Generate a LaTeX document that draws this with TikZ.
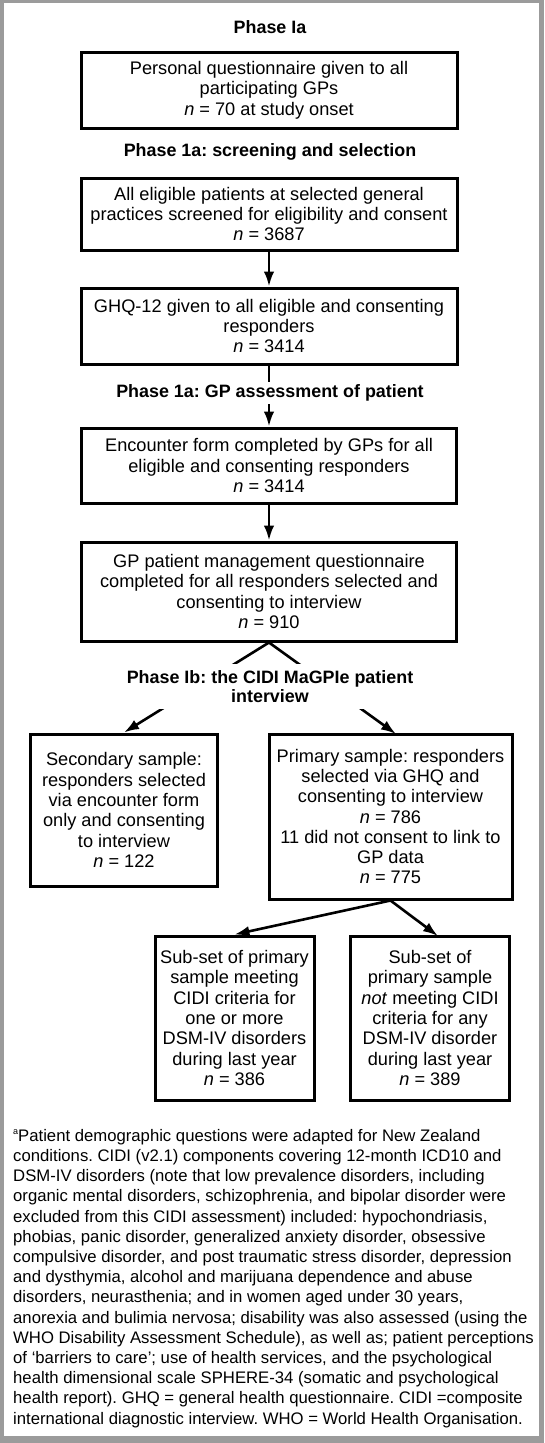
\documentclass[tikz,border=0pt]{standalone}
\usepackage{fontspec}
\setmainfont{Liberation Sans}
\usetikzlibrary{arrows.meta}
\definecolor{framegray}{RGB}{155,155,155}
\begin{document}
\frenchspacing
\begin{tikzpicture}[x=1pt,y=-1pt,
  box/.style={draw=black, line width=3pt, align=center, inner sep=0pt, font=\fontsize{18.2}{20.3}\selectfont},
  ttl/.style={align=center, font=\bfseries\fontsize{17.9}{18.5}\selectfont, fill=white, inner xsep=2pt},
  arr/.style={line width=2.6pt, -{Latex[length=15pt,width=10.5pt]}},
  note/.style={align=left, anchor=north west, inner sep=0pt, font=\fontsize{16.7}{20.2}\selectfont}
]
\useasboundingbox (0,0) rectangle (544,1443);
\fill[framegray] (0,0) rectangle (544,1443);
\fill[white] (4,3) rectangle (539,1436);

% titles without lines through them
\node[ttl] (t1) at (270,27) {Phase Ia};
\node[ttl] (t2) at (270,152) {Phase 1a: screening and selection};

% boxes
\node[box, minimum width=376pt, minimum height=76pt] (b1) at (269,90)
  {Personal questionnaire given to all\\participating GPs\\\textit{n} = 70 at study onset};
\node[box, minimum width=376pt, minimum height=72pt] (b2) at (269,214)
  {All eligible patients at selected general\\practices screened for eligibility and consent\\\textit{n} = 3687};
\node[box, minimum width=376pt, minimum height=76pt] (b3) at (269,326)
  {GHQ-12 given to all eligible and consenting\\responders\\\textit{n} = 3414};
\node[box, minimum width=375pt, minimum height=75pt] (b4) at (269,465.5)
  {Encounter form completed by GPs for all\\eligible and consenting responders\\\textit{n} = 3414};
\node[box, minimum width=375pt, minimum height=99pt] (b5) at (269,591.5)
  {GP patient management questionnaire\\completed for all responders selected and\\consenting to interview\\\textit{n} = 910};
\node[box, minimum width=187pt, minimum height=152pt] (b6) at (124,810)
  {Secondary sample:\\responders selected\\via encounter form\\only and consenting\\to interview\\\textit{n} = 122};
\node[box, minimum width=243pt, minimum height=165pt] (b7) at (390.5,816.5)
  {Primary sample: responders\\selected via GHQ and\\consenting to interview\\\textit{n} = 786\\11 did not consent to link to\\GP data\\\textit{n} = 775};
\node[box, minimum width=159pt, minimum height=164pt] (b8) at (234.5,1018)
  {Sub-set of primary\\sample meeting\\CIDI criteria for\\one or more\\DSM-IV disorders\\during last year\\\textit{n} = 386};
\node[box, minimum width=159pt, minimum height=164pt] (b9) at (430,1018)
  {Sub-set of\\primary sample\\\textit{not} meeting CIDI\\criteria for any\\DSM-IV disorder\\during last year\\\textit{n} = 389};

% arrow end points
\coordinate (t7) at (396,734);
\coordinate (t9) at (438,936);

% connectors
\draw[arr] (b2.south) -- (b3.north);
\draw[arr] (b3.south) -- (b4.north);
\draw[arr] (b4.south) -- (b5.north);
\draw[arr] (b5.south) -- (b6.north);
\draw[arr] (b5.south) -- (t7);
\draw[arr] (b7.south) -- (b8.north);
\draw[arr] (b7.south) -- (t9);

% titles drawn over connectors
\node[ttl, inner ysep=3pt] (t3) at (270,393) {Phase 1a: GP assessment of patient};
\node[ttl, inner ysep=7pt] (t4) at (270,686.5) {Phase Ib: the CIDI MaGPIe patient\\interview};

% footnote
\node[note] (fn) at (13,1129) {\raisebox{7pt}{\fontsize{9}{9}\selectfont a}Patient demographic questions were adapted for New Zealand\\
conditions. CIDI (v2.1) components covering 12-month ICD10 and\\
DSM-IV disorders (note that low prevalence disorders, including\\
organic mental disorders, schizophrenia, and bipolar disorder were\\
excluded from this CIDI assessment) included: hypochondriasis,\\
phobias, panic disorder, generalized anxiety disorder, obsessive\\
compulsive disorder, and post traumatic stress disorder, depression\\
and dysthymia, alcohol and marijuana dependence and abuse\\
disorders, neurasthenia; and in women aged under 30 years,\\
anorexia and bulimia nervosa; disability was also assessed (using the\\
WHO Disability Assessment Schedule), as well as; patient perceptions\\
of ‘barriers to care’; use of health services,  and the psychological\\
health dimensional scale SPHERE-34 (somatic and psychological\\
health report). GHQ = general health questionnaire. CIDI =composite\\
international diagnostic interview. WHO = World Health Organisation.};
\end{tikzpicture}
\end{document}
